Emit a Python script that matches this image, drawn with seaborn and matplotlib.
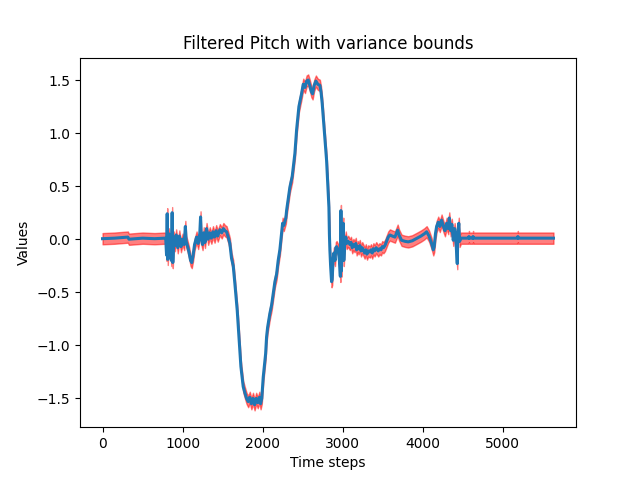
import matplotlib
matplotlib.use("Agg")
import matplotlib.pyplot as plt
import numpy as np
import seaborn as sns

# time steps and filtered pitch values
# (each line of time_steps matches the same line of pitch)
time_steps = [
    0, 150, 316, 330, 500, 650, 780,
    790, 800, 808, 815, 830, 845, 860, 870, 878, 890,
    905, 920, 940, 960, 980, 1000, 1020, 1035, 1045, 1060,
    1080, 1100, 1115, 1130, 1150, 1175, 1195, 1215, 1225, 1235,
    1250, 1265, 1280, 1300, 1320, 1340, 1360, 1380, 1400, 1420,
    1440, 1466, 1490, 1510, 1530, 1550, 1570, 1591, 1612, 1633,
    1654, 1683, 1708, 1729, 1758, 1780, 1800, 1820, 1840, 1860,
    1880, 1900, 1920, 1940, 1960, 1975, 1990, 2008, 2038, 2050,
    2063, 2091, 2113, 2154, 2175, 2195, 2216, 2237, 2250, 2265,
    2291, 2300, 2341, 2370, 2404, 2425, 2454, 2487, 2508, 2530,
    2550, 2570, 2590, 2610, 2625, 2645, 2666, 2690, 2716, 2730,
    2745, 2770, 2800, 2820, 2829, 2835, 2841, 2850, 2862, 2870,
    2880, 2891, 2905, 2915, 2925, 2945, 2960, 2972, 2979, 2985,
    2995, 3008, 3015, 3025, 3040,
    3050, 3070, 3091, 3105, 3120, 3135, 3150, 3165, 3175, 3190,
    3200, 3215, 3230, 3245, 3258, 3275, 3290, 3305, 3320, 3341,
    3355, 3370, 3385, 3400, 3420, 3445, 3460, 3480, 3495, 3510,
    3529, 3550, 3570, 3591, 3620, 3654, 3670, 3688, 3705, 3737,
    3780, 3820, 3870, 3925, 3980, 4020, 4050, 4080, 4112, 4133,
    4145, 4160, 4175, 4195, 4215, 4237, 4260, 4279, 4300, 4320,
    4333, 4350, 4365, 4383, 4400, 4415, 4433, 4440, 4452, 4462,
    4479, 4575, 4579, 4583, 4627, 4630, 4634, 5186, 5190, 5194,
    5635,
]
pitch = [
    0.005, 0.01, 0.02, 0.0, 0.01, 0.005, 0.01,
    0.0, -0.15, 0.24, -0.19, 0.05, -0.05, -0.2, 0.25, -0.22, 0.02,
    -0.06, 0.04, -0.08, 0.03, -0.07, 0.0, -0.05, 0.12, -0.02, -0.06,
    -0.12, -0.2, -0.22, -0.16, -0.05, 0.02, -0.04, 0.05, 0.21, 0.0,
    -0.05, 0.06, -0.03, 0.1, 0.0, 0.06, 0.01, 0.07, 0.02, 0.08,
    0.03, 0.09, 0.06, 0.1, 0.08, 0.07, 0.02, -0.04, -0.18, -0.25,
    -0.42, -0.67, -0.95, -1.2, -1.39, -1.45, -1.5, -1.53, -1.49, -1.55,
    -1.5, -1.56, -1.5, -1.54, -1.49, -1.55, -1.5, -1.3, -1.08, -0.92,
    -0.83, -0.7, -0.62, -0.4, -0.33, -0.2, -0.1, 0.06, 0.15, 0.13,
    0.2, 0.27, 0.49, 0.59, 0.81, 1.03, 1.25, 1.37, 1.46, 1.43,
    1.49, 1.5, 1.45, 1.39, 1.37, 1.45, 1.49, 1.46, 1.45, 1.39,
    1.28, 1.03, 0.74, 0.45, 0.3, 0.05, -0.1, -0.25, -0.4, -0.38,
    -0.2, -0.13, -0.2, -0.08, -0.07, -0.1, -0.2, -0.35, 0.27, -0.3,
    0.0, 0.15, -0.2, -0.05, 0.02,
    -0.04, -0.02, -0.05, -0.03, -0.08, -0.05, -0.07, -0.04, -0.1, -0.07,
    -0.09, -0.06, -0.11, -0.08, -0.1, -0.13, -0.1, -0.14, -0.11, -0.12,
    -0.1, -0.13, -0.09, -0.11, -0.08, -0.11, -0.09, -0.1, -0.07, -0.08,
    -0.06, -0.02, 0.02, 0.04, 0.03, 0.02, 0.05, 0.085, 0.04, -0.01,
    -0.02, -0.025, -0.015, 0.007, 0.03, 0.05, 0.07, 0.03, -0.04, -0.1,
    -0.07, 0.05, 0.12, 0.16, 0.12, 0.18, 0.12, 0.08, 0.15, 0.1,
    0.2, 0.08, 0.14, -0.01, 0.1, 0.0, -0.23, 0.05, 0.15, -0.02,
    0.01, 0.01, 0.025, 0.01, 0.01, 0.025, 0.01, 0.01, 0.025, 0.01,
    0.01,
]
# half width of the variance band
bound = 0.053

t = np.array(time_steps)
p = np.array(pitch)

fig, ax = plt.subplots(figsize=(6.4, 4.8), dpi=100)
ax.fill_between(t, p - bound, p + bound, color='r', alpha=0.5)
sns.lineplot(x=t, y=p, ax=ax, color='#1f77b4', linewidth=2.2, estimator=None)
ax.set_title('Filtered Pitch with variance bounds')
ax.set_xlabel('Time steps')
ax.set_ylabel('Values')
fig.savefig('out.png')
